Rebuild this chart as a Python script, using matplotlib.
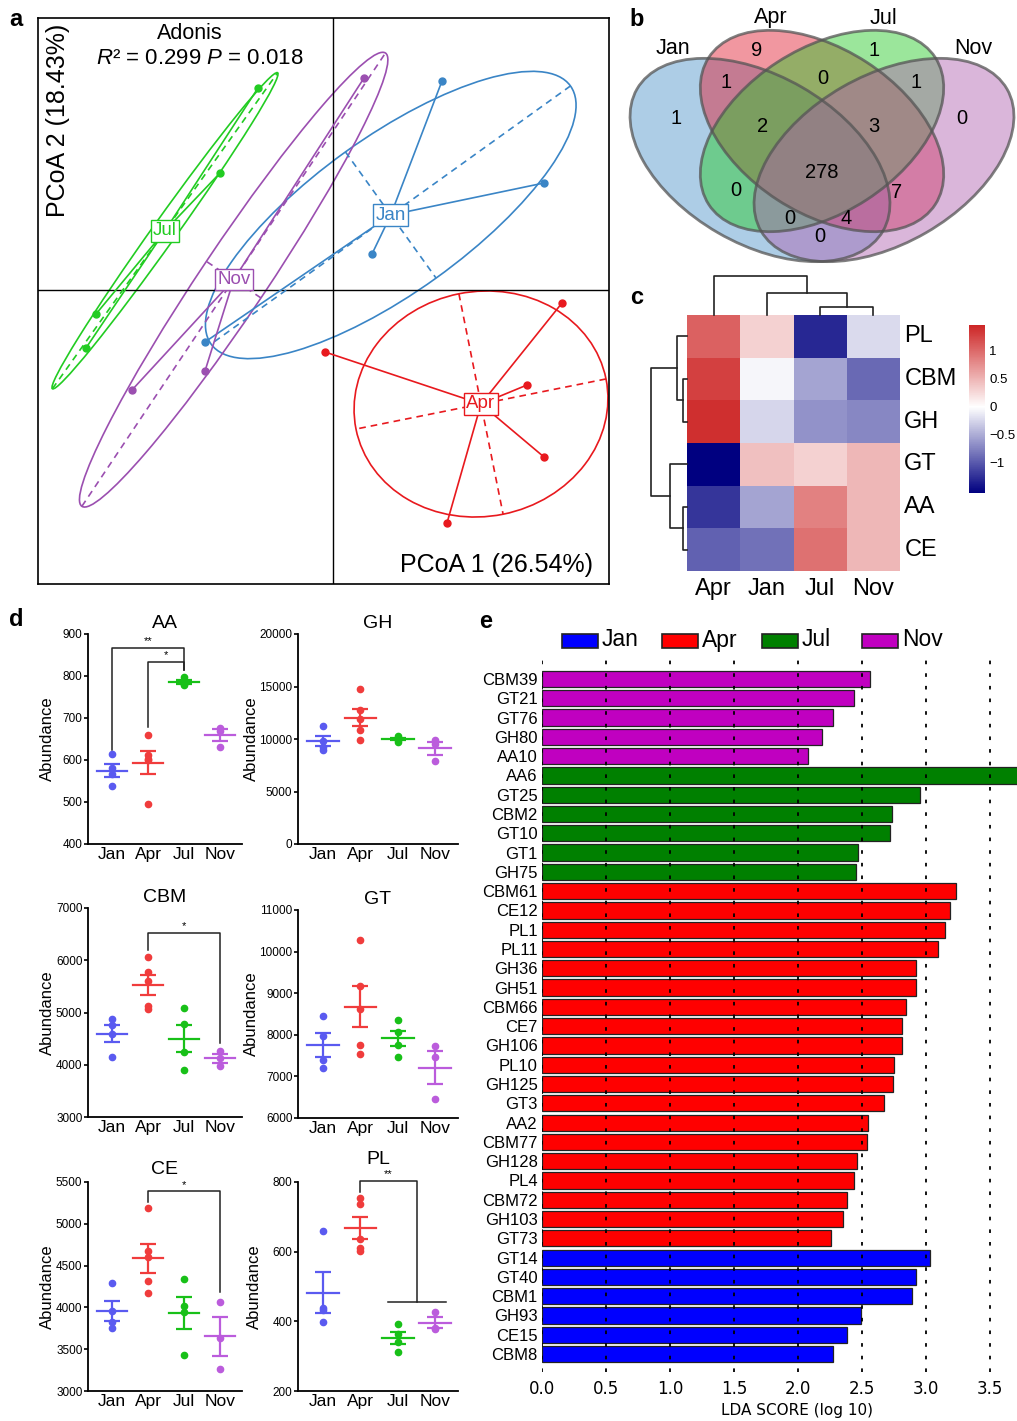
import numpy as np
import matplotlib
matplotlib.use("Agg")
import matplotlib.pyplot as plt
from matplotlib.patches import Ellipse, Rectangle
from matplotlib.colors import LinearSegmentedColormap, Normalize
from matplotlib.cm import ScalarMappable

plt.rcParams['font.family'] = ['Liberation Sans', 'DejaVu Sans']
plt.rcParams['mathtext.fontset'] = 'custom'
plt.rcParams['mathtext.rm'] = 'Liberation Sans'
plt.rcParams['mathtext.it'] = 'Liberation Sans:italic'

W, H = 1017, 1421
months = ["Jan", "Apr", "Jul", "Nov"]

# ---- a: PCoA scores per month
pcoa_jan_x = [0.109, 0.211, 0.039, -0.128]
pcoa_jan_y = [0.209, 0.107, 0.036, -0.052]
pcoa_apr_x = [0.229, -0.008, 0.194, 0.211, 0.114]
pcoa_apr_y = [-0.013, -0.062, -0.095, -0.167, -0.233]
pcoa_jul_x = [-0.075, -0.113, -0.237, -0.247]
pcoa_jul_y = [0.202, 0.117, -0.024, -0.058]
pcoa_nov_x = [0.031, -0.201, -0.128]
pcoa_nov_y = [0.212, -0.100, -0.081]

# ---- b: venn counts
venn_counts = [1, 9, 1, 0, 1, 0, 1, 2, 3, 278, 0, 7, 0, 4, 0]

# ---- c: heatmap z-scores (rows x cols)
heat_rows = ["PL", "CBM", "GH", "GT", "AA", "CE"]
heat_cols = ["Apr", "Jan", "Jul", "Nov"]
heat_pl = [1.05, 0.30, -1.30, -0.22]
heat_cbm = [1.28, -0.06, -0.55, -0.90]
heat_gh = [1.40, -0.24, -0.65, -0.72]
heat_gt = [-1.54, 0.42, 0.30, 0.48]
heat_aa = [-1.22, -0.55, 0.85, 0.48]
heat_ce = [-0.95, -0.85, 0.95, 0.48]
col_merge_h = [0.8, 2.2, 3.9]          # (Jul,Nov), Jan, Apr
row_merge_h = [0.4, 1.0, 0.4, 1.7, 3.6]  # (CBM,GH), PL, (AA,CE), GT, top

# ---- d: abundances per month (Jan, Apr, Jul, Nov)
aa_vals = [[614, 580, 567, 539], [660, 612, 603, 600, 495], [797, 785, 782, 779], [677, 670, 632]]
gh_vals = [[11250, 9800, 9200, 9000], [14750, 12750, 11900, 10850, 9950],
           [10250, 10050, 9950, 9700], [9950, 9500, 7900]]
cbm_vals = [[4876, 4761, 4583, 4154], [6056, 5775, 5609, 5124, 5073],
            [5080, 4774, 4250, 3900], [4269, 4123, 3976]]
gt_vals = [[8460, 7970, 7390, 7210], [10290, 9170, 8620, 7750, 7550],
           [8356, 8060, 7755, 7474], [7731, 7458, 6450]]
ce_vals = [[4288, 3957, 3829, 3750], [5185, 4675, 4599, 4319, 4168],
           [4343, 4021, 3949, 3431], [4069, 3638, 3259]]
pl_vals = [[660, 439, 433, 399], [755, 737, 636, 610, 602],
           [392, 364, 342, 313], [428, 382, 379]]

# ---- e: LEfSe
lda_names = ["CBM39", "GT21", "GT76", "GH80", "AA10",
             "AA6", "GT25", "CBM2", "GT10", "GT1", "GH75",
             "CBM61", "CE12", "PL1", "PL11", "GH36", "GH51", "CBM66", "CE7", "GH106",
             "PL10", "GH125", "GT3", "AA2", "CBM77", "GH128", "PL4", "CBM72", "GH103", "GT73",
             "GT14", "GT40", "CBM1", "GH93", "CE15", "CBM8"]
lda_scores = [2.56, 2.44, 2.27, 2.19, 2.08,
              3.80, 2.95, 2.73, 2.72, 2.47, 2.45,
              3.23, 3.19, 3.15, 3.09, 2.92, 2.92, 2.84, 2.81, 2.81,
              2.75, 2.74, 2.67, 2.55, 2.54, 2.46, 2.44, 2.38, 2.35, 2.26,
              3.03, 2.92, 2.89, 2.49, 2.38, 2.27]
lda_group = ["Nov"] * 5 + ["Jul"] * 6 + ["Apr"] * 19 + ["Jan"] * 6

pcoa_col = {"Jan": "#3a85c6", "Apr": "#e8191e", "Jul": "#22cc22", "Nov": "#9b4fb0"}
dot_col = ["#5a5af0", "#f03c3c", "#18c018", "#bb5cdc"]
lefse_col = {"Jan": "#0000ff", "Apr": "#ff0000", "Jul": "#008000", "Nov": "#c000c0"}


def rect(x0, y0, x1, y1):
    return [x0 / W, 1 - y1 / H, (x1 - x0) / W, (y1 - y0) / H]


fig = plt.figure(figsize=(W / 100, H / 100), dpi=100)

# =========================== a
ax = fig.add_axes(rect(38, 18, 609, 584))
ax.set_xlim(-0.295, 0.276)
ax.set_ylim(-0.294, 0.272)
ax.set_xticks([])
ax.set_yticks([])
for s in ax.spines.values():
    s.set_linewidth(1.2)
ax.axhline(0, color='k', lw=1)
ax.axvline(0, color='k', lw=1)
k = 1.3
for name, xs, ys in [("Jan", pcoa_jan_x, pcoa_jan_y), ("Apr", pcoa_apr_x, pcoa_apr_y),
                     ("Jul", pcoa_jul_x, pcoa_jul_y), ("Nov", pcoa_nov_x, pcoa_nov_y)]:
    col = pcoa_col[name]
    xs = np.array(xs)
    ys = np.array(ys)
    cx, cy = xs.mean(), ys.mean()
    vals, vecs = np.linalg.eigh(np.cov(xs, ys))
    vals, vecs = vals[::-1], vecs[:, ::-1]
    ang = np.degrees(np.arctan2(vecs[1, 0], vecs[0, 0]))
    ax.add_patch(Ellipse((cx, cy), 2 * k * np.sqrt(vals[0]), 2 * k * np.sqrt(vals[1]),
                         angle=ang, fill=False, ec=col, lw=1.2))
    for i in range(2):
        d = k * np.sqrt(vals[i]) * vecs[:, i]
        ax.plot([cx - d[0], cx + d[0]], [cy - d[1], cy + d[1]], color=col, lw=1.2, ls=(0, (4, 3)))
    for x, y in zip(xs, ys):
        ax.plot([cx, x], [cy, y], color=col, lw=1.2)
    ax.plot(xs, ys, 'o', color=col, ms=5)
    ax.text(cx, cy, name, color=col, ha='center', va='center', fontsize=13.5,
            bbox=dict(boxstyle='square,pad=0.12', fc='white', ec=col, lw=1), zorder=5)
ax.text(0.266, 0.973, "Adonis", transform=ax.transAxes, ha='center', va='center', fontsize=15.5)
ax.text(0.283, 0.929, r"$\it{R}$² = 0.299 $\it{P}$ = 0.018", transform=ax.transAxes,
        ha='center', va='center', fontsize=16)
ax.text(0.972, 0.012, "PCoA 1 (26.54%)", transform=ax.transAxes, ha='right', va='bottom', fontsize=18)
ax.text(0.035, 0.82, "PCoA 2 (18.43%)", transform=ax.transAxes, ha='center', va='center',
        rotation=90, fontsize=18)

# =========================== b
axb = fig.add_axes(rect(620, 0, 1017, 270))
axb.set_xlim(620, 1017)
axb.set_ylim(270, 0)
axb.axis('off')
venn_fill = ["#4b91c9", "#e1192d", "#23c923", "#af5faf"]
venn_geo = [(760, 160, 284, 168, 30), (822, 131, 270, 164, 33),
            (822, 131, 270, 164, -33), (884, 160, 284, 168, -30)]
for (ex, ey, ew, eh, ea), fc in zip(venn_geo, venn_fill):
    axb.add_patch(Ellipse((ex, ey), ew, eh, angle=ea, fc=fc, alpha=0.45, ec='none'))
for ex, ey, ew, eh, ea in venn_geo:
    axb.add_patch(Ellipse((ex, ey), ew, eh, angle=ea, fill=False, ec='#555555', alpha=0.75, lw=2))
for name, (tx, ty) in zip(months, [(673, 48), (771, 18), (883, 18), (973, 48)]):
    axb.text(tx, ty, name, ha='center', va='center', fontsize=15.5)
venn_pos = [(676, 118), (757, 50), (874, 50), (962, 118), (726, 82), (823, 78), (916, 82),
            (763, 127), (874, 127), (822, 173), (736, 191), (897, 193), (790, 218), (846, 218), (820, 237)]
for n, (tx, ty) in zip(venn_counts, venn_pos):
    axb.text(tx, ty, str(n), ha='center', va='center', fontsize=14.5)

# =========================== c
cmap = LinearSegmentedColormap.from_list('nwr', [(0, 'navy'), (0.513, 'white'), (1, '#CD2626')])
norm = Normalize(-1.54, 1.46)
heat = np.array([heat_pl, heat_cbm, heat_gh, heat_gt, heat_aa, heat_ce])
axh = fig.add_axes(rect(687, 315, 900, 571))
axh.pcolormesh(heat, cmap=cmap, norm=norm)
axh.set_xlim(0, 4)
axh.set_ylim(6, 0)
axh.axis('off')
for i, r in enumerate(heat_rows):
    axh.text(4.08, i + 0.5, r, ha='left', va='center', fontsize=17)
for j, c in enumerate(heat_cols):
    axh.text(j + 0.5, 6.17, c, ha='center', va='top', fontsize=17)

# dendrograms (pixel overlay)
axd = fig.add_axes(rect(620, 270, 1017, 600))
axd.set_xlim(620, 1017)
axd.set_ylim(600, 270)
axd.axis('off')


def link(a, b, h, vertical=True):
    (pa, ha), (pb, hb) = a, b
    if vertical:
        axd.plot([pa, pa, pb, pb], [ha, h, h, hb], color='#222222', lw=1.2)
    else:
        axd.plot([ha, h, h, hb], [pa, pa, pb, pb], color='#222222', lw=1.2)
    return ((pa + pb) / 2, h)


cw = 213 / 4
cx_ = [687 + (j + 0.5) * cw for j in range(4)]
base = 315
n1 = link((cx_[2], base), (cx_[3], base), base - col_merge_h[0] * 10)
n2 = link((cx_[1], base), n1, base - col_merge_h[1] * 10)
link((cx_[0], base), n2, base - col_merge_h[2] * 10)
rh = 256 / 6
ry = [315 + (i + 0.5) * rh for i in range(6)]
left = 687
r1 = link((ry[1], left), (ry[2], left), left - row_merge_h[0] * 10, vertical=False)
r2 = link((ry[0], left), r1, left - row_merge_h[1] * 10, vertical=False)
r3 = link((ry[4], left), (ry[5], left), left - row_merge_h[2] * 10, vertical=False)
r4 = link((ry[3], left), r3, left - row_merge_h[3] * 10, vertical=False)
link(r2, r4, left - row_merge_h[4] * 10, vertical=False)

cax = fig.add_axes(rect(969, 325, 985, 493))
cb = fig.colorbar(ScalarMappable(norm=norm, cmap=cmap), cax=cax)
cb.outline.set_visible(False)
cb.set_ticks([1, 0.5, 0, -0.5, -1])
cb.set_ticklabels(["1", "0.5", "0", "\u22120.5", "\u22121"])
cax.tick_params(length=0, labelsize=9.5, pad=3)

# =========================== d
def dot_panel(box, title, vals, ylim, ystep, brackets=(), label_x=55, title_pad=4):
    a = fig.add_axes(rect(*box))
    for i, v in enumerate(vals):
        v = np.array(v, float)
        m = v.mean()
        se = v.std(ddof=1) / np.sqrt(len(v))
        c = dot_col[i]
        a.plot(np.full(len(v), i), v, 'o', color=c, ms=4.5, zorder=3)
        a.plot([i - 0.42, i + 0.42], [m, m], color=c, lw=1.6)
        a.errorbar(i, m, yerr=se, color=c, capsize=5.5, capthick=1.6, elinewidth=1.6)
    a.set_xlim(-0.67, 3.61)
    a.set_ylim(*ylim)
    a.set_yticks(np.arange(ylim[0], ylim[1] + 1, ystep))
    a.set_xticks(range(4), months)
    a.tick_params(axis='x', length=0, labelsize=12.5, pad=2)
    a.tick_params(axis='y', length=3, width=1.2, labelsize=8.5, pad=1)
    for s in ['top', 'right']:
        a.spines[s].set_visible(False)
    for s in ['left', 'bottom']:
        a.spines[s].set_linewidth(1.3)
    a.set_title(title, fontsize=14, pad=title_pad)
    a.set_ylabel("Abundance", fontsize=12)
    a.yaxis.set_label_coords((label_x - box[0]) / (box[2] - box[0]), 0.5)
    for star, x0, y0, x1, y1, yt in brackets:
        a.plot([x0, x0, x1, x1], [y0, yt, yt, y1], color='#222222', lw=1.1, clip_on=False)
        a.annotate(star, ((x0 + x1) / 2, yt), xytext=(0, 1), textcoords='offset points',
                   ha='center', va='bottom', fontsize=8, annotation_clip=False)
    return a


dot_panel((88, 634, 242, 844), "AA", aa_vals, (400, 900), 100,
          [("**", 0, 625, 2, 814, 867), ("*", 1, 679, 2, 814, 834)])
dot_panel((298, 634, 458, 844), "GH", gh_vals, (0, 20000), 5000, label_x=259)
dot_panel((88, 908, 242, 1117), "CBM", cbm_vals, (3000, 7000), 1000,
          [("*", 1, 6196, 3, 4410, 6527)])
dot_panel((298, 910, 458, 1118), "GT", gt_vals, (6000, 11000), 1000, label_x=259)
dot_panel((88, 1182, 242, 1391), "CE", ce_vals, (3000, 5500), 500,
          [("*", 1, 5264, 3, 4188, 5392)], title_pad=6)
apl = dot_panel((298, 1182, 458, 1391), "PL", pl_vals, (200, 800), 200,
                [("**", 1, 772, 2.5, 455, 803)], label_x=262, title_pad=13)
apl.plot([1.73, 3.3], [455, 455], color='#222222', lw=1.1)

# =========================== e
axe = fig.add_axes(rect(542, 660, 1017, 1372))
n = len(lda_names)
pos = np.arange(n)
axe.barh(pos, lda_scores, height=0.84, color=[lefse_col[g] for g in lda_group],
         edgecolor='#222222', lw=0.9, zorder=2)
axe.set_xlim(0, 3.71)
axe.set_ylim(n - 1 + 0.93, -0.985)
for xv in np.arange(0, 3.6, 0.5):
    axe.axvline(xv, color='k', lw=1.3, ls=(0, (2, 5)), zorder=3)
for s in axe.spines.values():
    s.set_visible(False)
axe.set_yticks(pos, lda_names)
axe.tick_params(axis='y', length=0, labelsize=12, pad=3)
axe.set_xticks(np.arange(0, 3.6, 0.5))
axe.set_xticklabels([f"{v:.1f}" for v in np.arange(0, 3.6, 0.5)], family='DejaVu Sans')
axe.tick_params(axis='x', length=0, labelsize=12, pad=6)
axe.set_xlabel("LDA SCORE (log 10)", fontsize=11, family='DejaVu Sans')
axe.xaxis.set_label_coords(0.537, -0.043)

# overlay for legend and panel letters
ov = fig.add_axes([0, 0, 1, 1], zorder=10)
ov.set_xlim(0, W)
ov.set_ylim(H, 0)
ov.axis('off')
for i, m in enumerate(months):
    ov.add_patch(Rectangle((562 + 100 * i, 634), 36, 14, fc=lefse_col[m], ec='#222222', lw=1.2))
    ov.text(602 + 100 * i, 640, m, ha='left', va='center', fontsize=16.5)
for letter, (lx, ly) in zip("abcde", [(16, 20), (637, 20), (637, 298), (16, 620), (486, 622)]):
    ov.text(lx, ly, letter, ha='center', va='center', fontsize=17, fontweight='bold')

fig.savefig("out.png", dpi=100)
